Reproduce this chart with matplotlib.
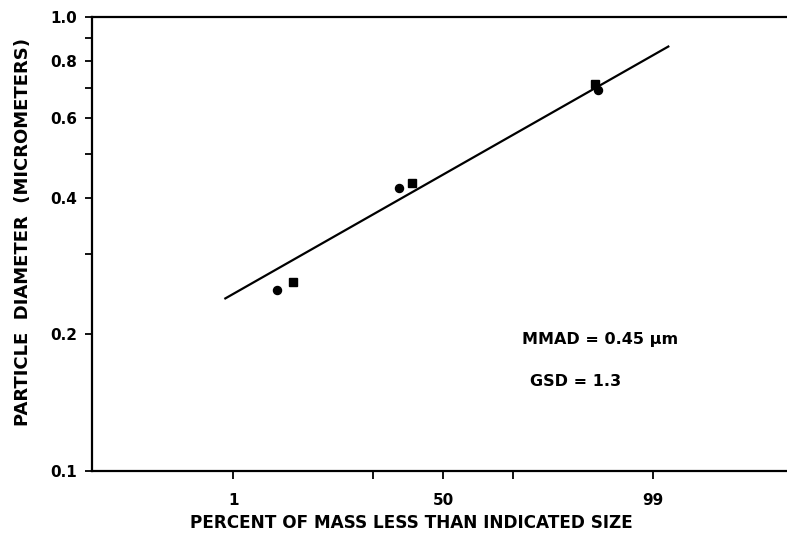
import matplotlib
matplotlib.use('Agg')
import matplotlib.pyplot as plt
from matplotlib.ticker import FixedLocator, NullFormatter
from statistics import NormalDist

# data (percent of mass, diameter in micrometers)
circle_pct = [3.3, 31.4, 95.7]
circle_diam = [0.250, 0.420, 0.690]
square_pct = [4.8, 36.4, 95.4]
square_diam = [0.261, 0.431, 0.713]
fit_pct = [0.79, 99.37]
fit_diam = [0.240, 0.862]

x_major = [1, 50, 99]
x_minor = [22, 78]
y_major = [0.1, 0.2, 0.4, 0.6, 0.8, 1.0]
y_minor = [0.3, 0.5, 0.7, 0.9]

nd = NormalDist()


def probit(pcts):
    # probability paper: percent -> standard normal quantile
    return [nd.inv_cdf(p / 100.0) for p in pcts]


plt.rcParams['font.family'] = ['DejaVu Sans']
plt.rcParams['font.weight'] = 'bold'

fig = plt.figure(figsize=(7.87, 5.4), dpi=100)
ax = fig.add_axes([0.117, 0.128, 0.883, 0.840])

ax.plot(probit(fit_pct), fit_diam, color='black', lw=1.6)
ax.plot(probit(circle_pct), circle_diam, 'o', color='black', ms=5.8)
ax.plot(probit(square_pct), square_diam, 's', color='black', ms=5.5)

ax.set_yscale('log')
ax.set_ylim(0.1, 1.0)
ax.set_xlim(-3.89, 3.81)

ax.yaxis.set_major_locator(FixedLocator(y_major))
ax.yaxis.set_minor_locator(FixedLocator(y_minor))
ax.yaxis.set_minor_formatter(NullFormatter())
ax.set_yticklabels(['%.1f' % v for v in y_major])

ax.xaxis.set_major_locator(FixedLocator(probit(x_major)))
ax.xaxis.set_minor_locator(FixedLocator(probit(x_minor)))
ax.set_xticklabels([str(v) for v in x_major])

for s in ['left', 'top', 'bottom']:
    ax.spines[s].set_linewidth(1.6)
ax.spines['right'].set_visible(False)

ax.tick_params(axis='y', which='major', length=5, width=1.3, labelsize=11, pad=6)
ax.tick_params(axis='y', which='minor', length=5, width=1.3)
ax.tick_params(axis='x', which='both', length=6, width=1.3, labelsize=11, pad=10)

for lab in ax.get_xticklabels() + ax.get_yticklabels():
    lab.set_fontweight('bold')

ax.set_xlabel('PERCENT OF MASS LESS THAN INDICATED SIZE', fontsize=12.2,
              fontweight='bold', labelpad=5)
ax.xaxis.set_label_coords(0.46, -0.096)
ax.set_ylabel('PARTICLE  DIAMETER  (MICROMETERS)', fontsize=13,
              fontweight='bold')
ax.yaxis.set_label_coords(-0.087, 0.527)

ax.text(0.619, 0.289, 'MMAD = 0.45 µm', transform=ax.transAxes, fontsize=11.5,
        fontweight='bold', va='center')
ax.text(0.630, 0.196, 'GSD = 1.3', transform=ax.transAxes, fontsize=11.5,
        fontweight='bold', va='center')

fig.savefig('out.png', dpi=100)
